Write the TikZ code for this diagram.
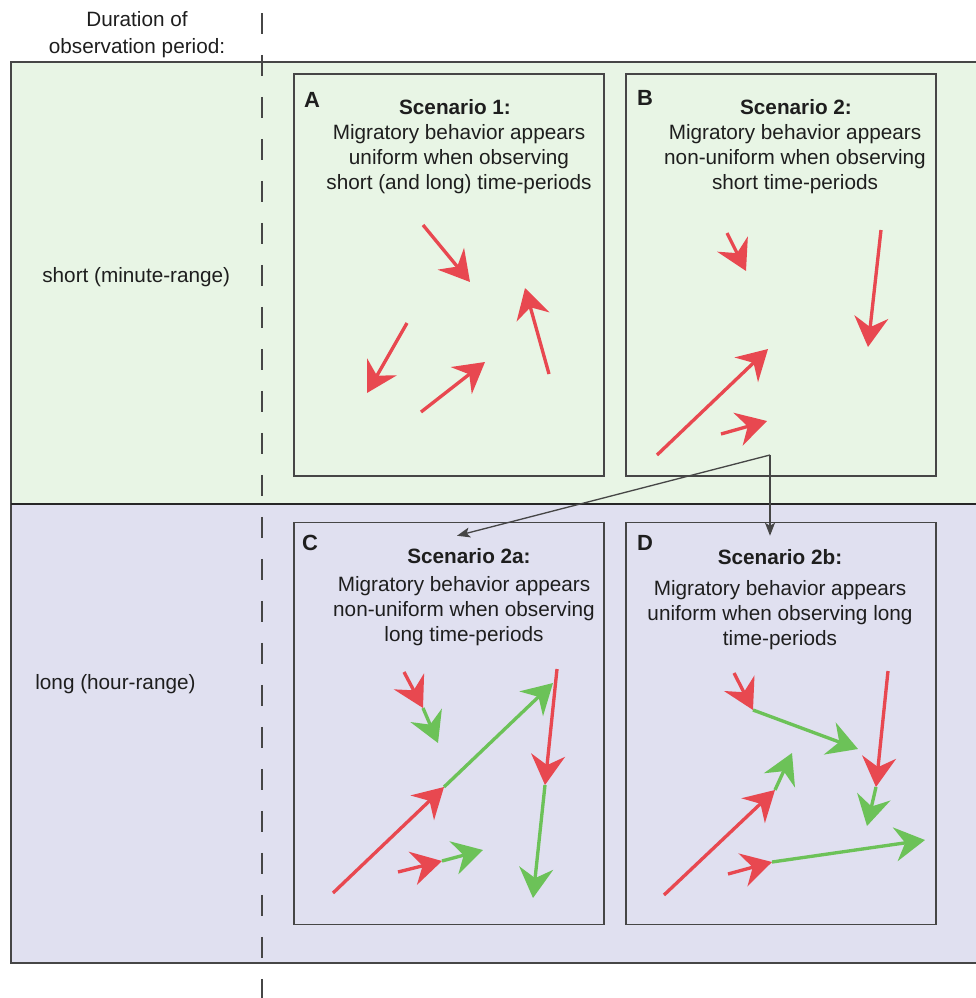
\documentclass[tikz,border=0pt]{standalone}
\usepackage{fontspec}
\setmainfont{Liberation Sans}
\usetikzlibrary{arrows.meta}
\definecolor{mgred}{RGB}{232,72,80}
\definecolor{mggreen}{RGB}{108,194,88}
\definecolor{mgshort}{RGB}{232,245,229}
\definecolor{mglong}{RGB}{224,224,240}
\definecolor{mgline}{RGB}{70,70,70}
\definecolor{mgtext}{RGB}{30,30,30}

\begin{document}
\begin{tikzpicture}[x=0.02cm, y=-0.02cm,
  every node/.style={font=\fontsize{11.8}{14.2}\selectfont, text=mgtext, inner sep=0pt},
  panelbox/.style={draw=mgline, line width=0.9pt, minimum width=6.2cm, minimum height=8.04cm},
  hdr/.style={font=\fontsize{11.8}{14.2}\selectfont\bfseries},
  body/.style={align=center},
  tag/.style={font=\fontsize{12.5}{14}\selectfont\bfseries},
  redtrack/.style={mgred, line width=1.9pt, -{Stealth[length=0.6cm, width=0.68cm, inset=0.2cm]}},
  greentrack/.style={redtrack, mggreen},
  link/.style={mgline, line width=0.75pt, -{Stealth[length=0.26cm, width=0.2cm, inset=0.06cm]}}
]
\useasboundingbox (0,0) rectangle (976,998);

% Observation bands
\fill[mgshort] (11,62) rectangle (976,504);
\fill[mglong] (11,504) rectangle (976,963);
\draw[mgline, line width=0.8pt] (976,62) -- (11,62) -- (11,963) -- (976,963);
\draw[black!85, line width=1.4pt] (11,504) -- (976,504);
\draw[mgline, line width=1.1pt, dash pattern=on 0.42cm off 0.42cm] (262,13) -- (262,998);

% Row labels
\node[align=center, font=\fontsize{11.8}{15.4}\selectfont] (durlabel) at (137,35) {Duration of\\observation period:};
\node[anchor=west] (shortlabel) at (42,277) {short (minute-range)};
\node[anchor=west] (longlabel) at (35,684) {long (hour-range)};

% Panels
\node[panelbox] (boxA) at (449,275) {};
\node[panelbox] (boxB) at (781,275) {};
\node[panelbox] (boxC) at (449,723.5) {};
\node[panelbox] (boxD) at (781,723.5) {};

\node[tag] (tagA) at (312,100) {A};
\node[tag] (tagB) at (645,98) {B};
\node[tag] (tagC) at (310,543) {C};
\node[tag] (tagD) at (645,543) {D};

\node[hdr] (hdrA) at (455,107) {Scenario 1:};
\node[body] (txtA) at (459,159.5) {Migratory behavior appears\\uniform when observing\\short (and long) time-periods};
\node[hdr] (hdrB) at (796,107) {Scenario 2:};
\node[body] (txtB) at (795,159.5) {Migratory behavior appears\\non-uniform when observing\\short time-periods};
\node[hdr] (hdrC) at (469,556) {Scenario 2a:};
\node[body] (txtC) at (464,611) {Migratory behavior appears\\non-uniform when observing\\long time-periods};
\node[hdr] (hdrD) at (780,557) {Scenario 2b:};
\node[body] (txtD) at (780,615) {Migratory behavior appears\\uniform when observing long\\time-periods};

% Scenario 1 tracks
\draw[redtrack] (423,225) -- (470,282);
\draw[redtrack] (549,374) -- (525,288);
\draw[redtrack] (407,323) -- (367,393);
\draw[redtrack] (421,412) -- (485,362);

% Scenario 2 tracks
\draw[redtrack] (727,233) -- (746,271);
\draw[redtrack] (881,230) -- (868,347);
\draw[redtrack] (657,455) -- (768,349);
\draw[redtrack] (721,434) -- (767,421);

% Scenario 2a tracks
\draw[redtrack] (404,672) -- (423,708);
\draw[greentrack] (423,708) -- (438,743);
\draw[redtrack] (333,893) -- (444,787);
\draw[greentrack] (444,787) -- (553,683);
\draw[redtrack] (557,669) -- (545,785);
\draw[greentrack] (545,785) -- (533,898);
\draw[redtrack] (398,872) -- (442,861);
\draw[greentrack] (442,861) -- (483,850);

% Scenario 2b tracks
\draw[redtrack] (734,673) -- (753,710);
\draw[greentrack] (753,710) -- (858,749);
\draw[redtrack] (888,671) -- (876,787);
\draw[greentrack] (876,787) -- (867,826);
\draw[redtrack] (664,895) -- (775,790);
\draw[greentrack] (775,790) -- (792,753);
\draw[redtrack] (728,874) -- (772,862);
\draw[greentrack] (772,862) -- (925,840);

% Split into long-range scenarios
\coordinate (split) at (770,455);
\draw[link] (split) -- ([shift={(8,14)}]boxC.north);
\draw[link] (split) -- ([shift={(-11,14)}]boxD.north);
\end{tikzpicture}
\end{document}
